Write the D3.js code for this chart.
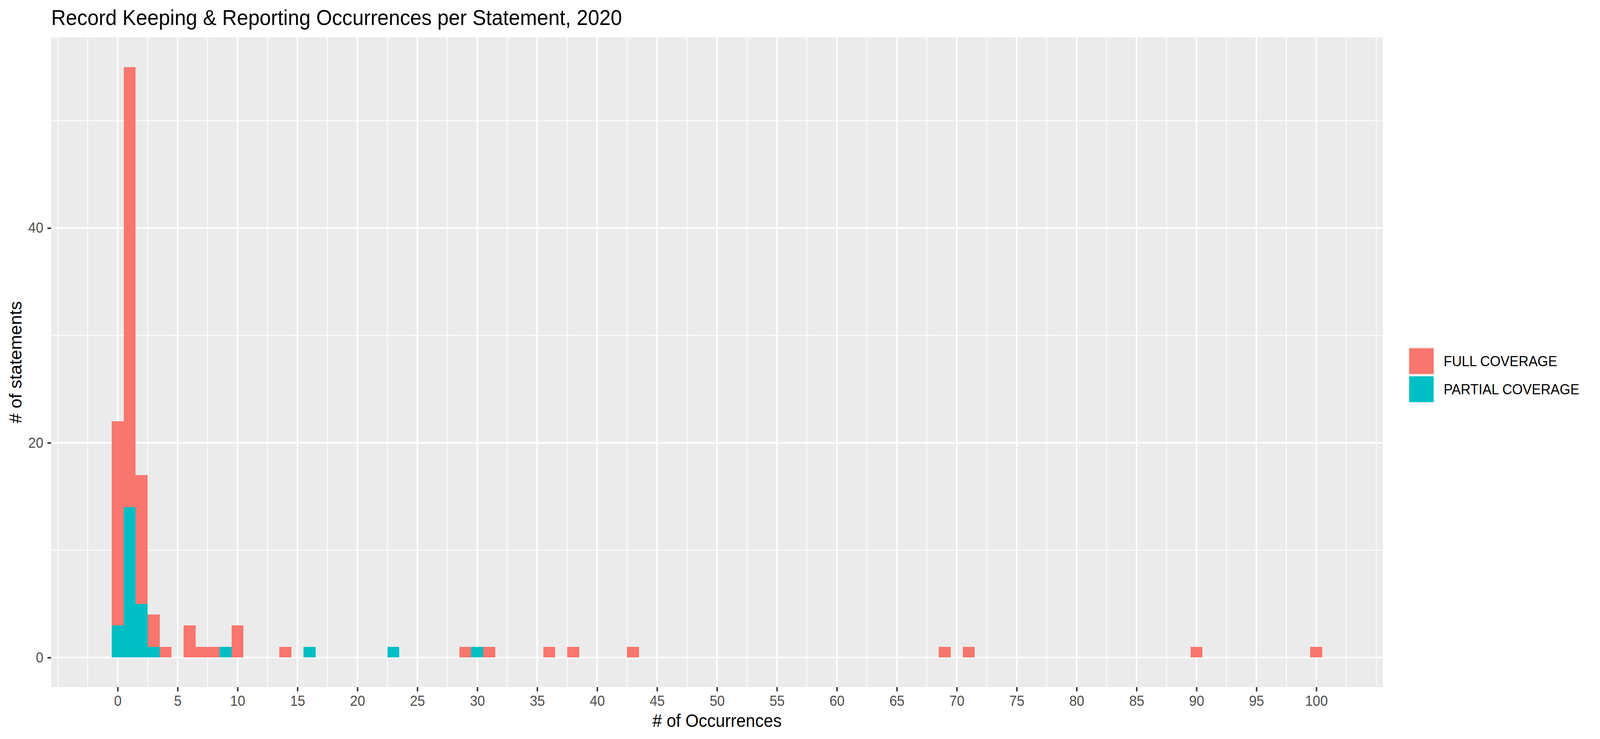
<!DOCTYPE html>
<html>
<head>
<meta charset="utf-8">
<script src="https://cdn.jsdelivr.net/npm/d3@7"></script>
<style>
  html, body { margin: 0; padding: 0; background: #fff; overflow: hidden; }
  svg { display: block; }
  text { font-family: "Liberation Sans", Arial, sans-serif; }
</style>
</head>
<body>
<div id="chart"></div>
<script>

// occurrences per statement (bin centres) and how many statements fall in each
let fullBins = [0, 1, 2, 3, 4, 6, 7, 8, 10, 14, 29, 31, 36, 38, 43, 69, 71, 90, 100];
let fullCounts = [19, 41, 12, 3, 1, 3, 1, 1, 3, 1, 1, 1, 1, 1, 1, 1, 1, 1, 1];
let partialBins = [0, 1, 2, 3, 9, 16, 23, 30];
let partialCounts = [3, 14, 5, 1, 1, 1, 1, 1];

let groups = ["FULL COVERAGE", "PARTIAL COVERAGE"];
let groupColors = ["#F8766D", "#00BFC4"];
let xTicks = d3.range(0, 101, 5);
let yTicks = [0, 20, 40];

let svgWidth = 4318;
let svgHeight = 1893;

let margin = {
    top: 96,
    right: 586,
    bottom: 133,
    left: 138
};

let width = svgWidth - margin.left - margin.right;
let height = svgHeight - margin.top - margin.bottom;

// drawn in 4318x1893 units, stretched to whatever the window really is
let svg = d3.select("#chart")
    .append("svg")
    .attr("viewBox", `0 0 ${svgWidth} ${svgHeight}`)
    .attr("preserveAspectRatio", "none")
    .style("width", "100vw")
    .style("height", "100vh");

svg.append("rect")
    .attr("width", svgWidth)
    .attr("height", svgHeight)
    .attr("fill", "#ffffff");

let chartGroup = svg.append("g")
    .attr("transform", `translate(${margin.left}, ${margin.top})`);

// one row per bin, partial stacked under full like ggplot does
let table = d3.range(0, 101).map(function (b) {
    let row = { bin: b };
    let fi = fullBins.indexOf(b);
    let pi = partialBins.indexOf(b);
    row[groups[0]] = fi >= 0 ? fullCounts[fi] : 0;
    row[groups[1]] = pi >= 0 ? partialCounts[pi] : 0;
    return row;
});

let stacked = d3.stack().keys([groups[1], groups[0]])(table);

// ggplot default 5% expansion around -0.5..100.5 and 0..55
let xMin = -0.5, xMax = 100.5;
let xPad = (xMax - xMin) * 0.05;
let xScale = d3.scaleLinear()
    .domain([xMin - xPad, xMax + xPad])
    .range([0, width]);

let yTop = d3.max(table, d => d[groups[0]] + d[groups[1]]);
let yPad = yTop * 0.05;
let yScale = d3.scaleLinear()
    .domain([-yPad, yTop + yPad])
    .range([height, 0]);

let color = d3.scaleOrdinal().domain(groups).range(groupColors);

chartGroup.append("rect")
    .attr("width", width)
    .attr("height", height)
    .attr("fill", "#EBEBEB");

// minor grid
let xMinor = d3.range(-5, 105.1, 2.5).filter(v => v % 5 !== 0);
let yMinor = [10, 30, 50];

chartGroup.selectAll(".xminor")
    .data(xMinor)
    .enter()
    .append("line")
    .attr("x1", d => xScale(d))
    .attr("x2", d => xScale(d))
    .attr("y1", 0)
    .attr("y2", height)
    .attr("stroke", "#ffffff")
    .attr("stroke-width", 2);

chartGroup.selectAll(".yminor")
    .data(yMinor)
    .enter()
    .append("line")
    .attr("x1", 0)
    .attr("x2", width)
    .attr("y1", d => yScale(d))
    .attr("y2", d => yScale(d))
    .attr("stroke", "#ffffff")
    .attr("stroke-width", 2);

// major grid
chartGroup.selectAll(".xmajor")
    .data([-5].concat(xTicks, [105]))
    .enter()
    .append("line")
    .attr("x1", d => xScale(d))
    .attr("x2", d => xScale(d))
    .attr("y1", 0)
    .attr("y2", height)
    .attr("stroke", "#ffffff")
    .attr("stroke-width", d => (d < 0 || d > 100) ? 2 : 4);

chartGroup.selectAll(".ymajor")
    .data(yTicks)
    .enter()
    .append("line")
    .attr("x1", 0)
    .attr("x2", width)
    .attr("y1", d => yScale(d))
    .attr("y2", d => yScale(d))
    .attr("stroke", "#ffffff")
    .attr("stroke-width", 4);

// bars
chartGroup.selectAll(".layer")
    .data(stacked)
    .enter()
    .append("g")
    .attr("fill", d => color(d.key))
    .selectAll("rect")
    .data(d => d.filter(s => s[1] > s[0]))
    .enter()
    .append("rect")
    .attr("x", d => xScale(d.data.bin - 0.5))
    .attr("width", d => xScale(d.data.bin + 0.5) - xScale(d.data.bin - 0.5))
    .attr("y", d => yScale(d[1]))
    .attr("height", d => yScale(d[0]) - yScale(d[1]))
    .attr("shape-rendering", "crispEdges");

// axes
let bottomAxis = d3.axisBottom(xScale)
    .tickValues(xTicks)
    .tickSize(11)
    .tickPadding(11);

let leftAxis = d3.axisLeft(yScale)
    .tickValues(yTicks)
    .tickSize(10)
    .tickPadding(11);

let xAxisG = chartGroup.append("g")
    .attr("transform", `translate(0, ${height})`)
    .call(bottomAxis);

let yAxisG = chartGroup.append("g")
    .call(leftAxis);

[xAxisG, yAxisG].forEach(function (g) {
    g.select(".domain").remove();
    g.selectAll(".tick line")
        .attr("stroke", "#333333")
        .attr("stroke-width", 4);
    g.selectAll(".tick text")
        .attr("fill", "#4D4D4D")
        .style("font-size", "36.7px")
        .style("font-family", "'Liberation Sans', Arial, sans-serif");
});

// titles
svg.append("text")
    .attr("x", 138)
    .attr("y", 64)
    .style("font-size", "55px")
    .attr("fill", "#000000")
    .text("Record Keeping & Reporting Occurrences per Statement, 2020");

svg.append("text")
    .attr("x", margin.left + width / 2)
    .attr("y", 1862)
    .attr("text-anchor", "middle")
    .style("font-size", "45.8px")
    .attr("fill", "#000000")
    .text("# of Occurrences");

svg.append("text")
    .attr("transform", `translate(58, ${margin.top + height / 2}) rotate(-90)`)
    .attr("text-anchor", "middle")
    .style("font-size", "45.8px")
    .attr("fill", "#000000")
    .text("# of statements");

// legend
let legend = svg.append("g")
    .attr("transform", "translate(3800, 889)");

legend.selectAll(".keybg")
    .data(groups)
    .enter()
    .append("rect")
    .attr("x", 0)
    .attr("y", (d, i) => i * 72)
    .attr("width", 72)
    .attr("height", 72)
    .attr("fill", "#F2F2F2");

legend.selectAll(".key")
    .data(groups)
    .enter()
    .append("rect")
    .attr("x", 3)
    .attr("y", (d, i) => i * 72 + 3)
    .attr("width", 66)
    .attr("height", 66)
    .attr("fill", d => color(d));

legend.selectAll(".label")
    .data(groups)
    .enter()
    .append("text")
    .attr("x", 96)
    .attr("y", (d, i) => i * 72 + 49)
    .style("font-size", "36.7px")
    .attr("fill", "#000000")
    .text(d => d);

</script>
</body>
</html>
